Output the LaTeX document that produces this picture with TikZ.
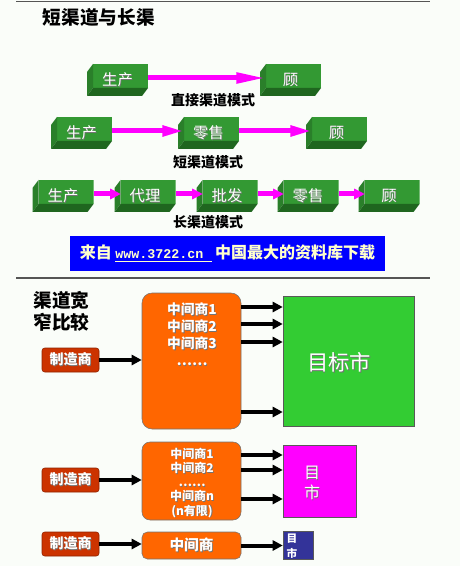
\documentclass[tikz,border=0pt]{standalone}
\usepackage{fontspec}
\setmainfont{Noto Sans CJK SC}
\newfontfamily\monofont{Liberation Mono}
\usetikzlibrary{arrows.meta,positioning}
\definecolor{pagebg}{HTML}{FAFDF9}
\definecolor{rulegray}{HTML}{555555}
\definecolor{boxgreen}{HTML}{339933}
\definecolor{boxside}{HTML}{2A7F2A}
\definecolor{boxbottom}{HTML}{1F661F}
\definecolor{pipemag}{HTML}{FF00FF}
\definecolor{bannerblue}{HTML}{0000FF}
\definecolor{bannertext}{HTML}{FFFFCC}
\definecolor{makerred}{HTML}{CC3300}
\definecolor{midorange}{HTML}{FF6600}
\definecolor{mktgreen}{HTML}{33CC33}
\definecolor{mktmag}{HTML}{FF00FF}
\definecolor{mktnavy}{HTML}{333399}
\newcommand{\shd}[1]{\makebox[0pt][l]{\kern0.6pt\raisebox{-0.6pt}{\color{black!55}#1}}#1}
\newcommand{\chtxt}[1]{\raisebox{1.5pt}{\shd{#1}}}

\begin{document}
\begin{tikzpicture}[x=0.75pt, y=-0.75pt,
  chan/.style={minimum width=61*0.75pt, minimum height=32*0.75pt, inner sep=0pt,
    text=white, font=\fontsize{11.5}{13}\selectfont,
    path picture={
      \fill[boxgreen] ([xshift=4.5pt]path picture bounding box.north west) rectangle ([yshift=6pt]path picture bounding box.south east);
      \fill[boxside] ([xshift=4.5pt]path picture bounding box.north west) -- ([yshift=-6pt]path picture bounding box.north west)
        -- (path picture bounding box.south west) -- ([shift={(4.5pt,6pt)}]path picture bounding box.south west) -- cycle;
      \fill[boxbottom] (path picture bounding box.south west) -- ([shift={(4.5pt,6pt)}]path picture bounding box.south west)
        -- ([yshift=6pt]path picture bounding box.south east) -- ([xshift=-4.5pt]path picture bounding box.south east) -- cycle;
    }},
  feed/.style={line width=3.75pt, pipemag, -{Triangle[length=#1, width=7.5pt]}, shorten >=-5pt},
  modelabel/.style={font=\fontsize{10.5}{12}\selectfont\bfseries},
  maker/.style={fill=makerred, draw=makerred!70!black, rounded corners=2pt, minimum width=57*0.75pt,
    minimum height=24*0.75pt, inner sep=0pt, text=white, font=\fontsize{10.5}{12}\selectfont\bfseries},
  mid/.style={fill=midorange, draw=black!55, inner sep=0pt, minimum width=99*0.75pt, text=white},
  market/.style={draw=black!65, inner sep=0pt},
  flow/.style={line width=3pt, -{Triangle[length=7.5pt, width=7.5pt]}}]

\useasboundingbox (0,0) rectangle (460,566);
\fill[pagebg] (0,0) rectangle (460,566);
\draw[rulegray, line width=0.75pt] (16,2) -- (430,2);

% Short and long channels
\node[anchor=west, font=\fontsize{14}{16}\selectfont\bfseries] (title) at (38,17) {短渠道与长渠};

% Direct channel
\node[chan] (d1) at (117.5,80) {\chtxt{生产}};
\node[chan] (d2) at (290.5,80) {\chtxt{顾}};
\draw[feed=22.5pt] ([yshift=1.5pt]d1.east) -- ([yshift=1.5pt]d2.west);
\node[modelabel] (dlbl) at (213,100) {直接渠道模式};

% Short channel
\node[chan] (s1) at (81.5,133) {\chtxt{生产}};
\node[chan] (s2) at (208.5,133) {\chtxt{零售}};
\node[chan] (s3) at (336.5,133) {\chtxt{顾}};
\foreach \a/\b in {s1/s2,s2/s3}
  \draw[feed=16.5pt] ([yshift=1.5pt]\a.east) -- ([yshift=1.5pt]\b.west);
\node[modelabel] (slbl) at (208,162) {短渠道模式};

% Long channel
\node[chan] (l1) at (63,196) {\chtxt{生产}};
\node[chan] (l2) at (145,196) {\chtxt{代理}};
\node[chan] (l3) at (227,196) {\chtxt{批发}};
\node[chan] (l4) at (308,196) {\chtxt{零售}};
\node[chan] (l5) at (389,196) {\chtxt{顾}};
\foreach \a/\b in {l1/l2,l2/l3,l3/l4,l4/l5}
  \draw[feed=8pt] ([yshift=1.5pt]\a.east) -- ([yshift=1.5pt]\b.west);
\node[modelabel] (llbl) at (208,222) {长渠道模式};

% Banner
\node[fill=bannerblue, minimum width=315*0.75pt, minimum height=35*0.75pt, inner sep=0pt, text=bannertext,
  font=\fontsize{12}{14}\selectfont\bfseries] (banner) at (227.5,253.5)
  {来自\ \underline{\fontsize{10}{12}\monofont www.3722.cn\ }\ 中国最大的资料库下载};

\draw[rulegray, line width=1.5pt] (16,278) -- (430,278);

% Wide vs narrow
\node[align=left, font=\fontsize{14}{16.5}\selectfont\bfseries] (cmp) at (61.5,311) {渠道宽\\窄比较};

% Wide channel
\node[maker] (m1) at (70.5,360) {\shd{制造商}};
\node[mid, rounded corners=7.5pt, minimum height=136*0.75pt] (o1) at (191.5,361) {};
\node[text=white, align=center, font=\fontsize{10.3}{12.75}\selectfont\bfseries] (o1txt) at (192,335)
  {\shd{中间商1}\\\shd{中间商2}\\\shd{中间商3}\\\shd{……}};
\node[market, fill=mktgreen, minimum width=131*0.75pt, minimum height=130*0.75pt] (t1) at (348.5,361) {};
\node[text=white, font=\fontsize{16}{18}\selectfont] (t1txt) at (339,363) {\shd{目标市}};
\draw[flow] (m1.east) -- (m1.east -| o1.west);
\foreach \y in {307,324,342,412}
  \draw[flow] (o1.east |- 0,\y) -- (t1.west |- 0,\y);

% Medium channel
\node[maker] (m2) at (70.5,480) {\shd{制造商}};
\node[mid, rounded corners=6pt, minimum height=78*0.75pt] (o2) at (191.5,481) {};
\node[text=white, align=center, font=\fontsize{9}{10.7}\selectfont\bfseries] (o2txt) at (192,483)
  {\shd{中间商1}\\\shd{中间商2}\\\shd{……}\\\shd{中间商n}\\\shd{(n有限)}};
\node[market, fill=mktmag, minimum width=73*0.75pt, minimum height=72*0.75pt] (t2) at (319.5,481) {};
\node[text=white, align=center, font=\fontsize{12}{15}\selectfont] (t2txt) at (312,483) {\shd{目}\\\shd{市}};
\draw[flow] (m2.east) -- (m2.east -| o2.west);
\foreach \y in {455,470,499}
  \draw[flow] (o2.east |- 0,\y) -- (t2.west |- 0,\y);

% Narrow channel
\node[maker] (m3) at (70.5,544) {\shd{制造商}};
\node[mid, rounded corners=4pt, minimum height=27*0.75pt, font=\fontsize{11}{13}\selectfont\bfseries] (o3) at (191.5,545.5) {\shd{中间商}};
\node[market, fill=mktnavy, minimum width=30*0.75pt, minimum height=28*0.75pt] (t3) at (298,545) {};
\node[text=white, align=center, font=\fontsize{8}{11}\selectfont\bfseries] (t3txt) at (292,546) {目\\市};
\draw[flow] (m3.east) -- (m3.east -| o3.west);
\draw[flow] (o3.east) -- (o3.east -| t3.west);
\end{tikzpicture}
\end{document}
